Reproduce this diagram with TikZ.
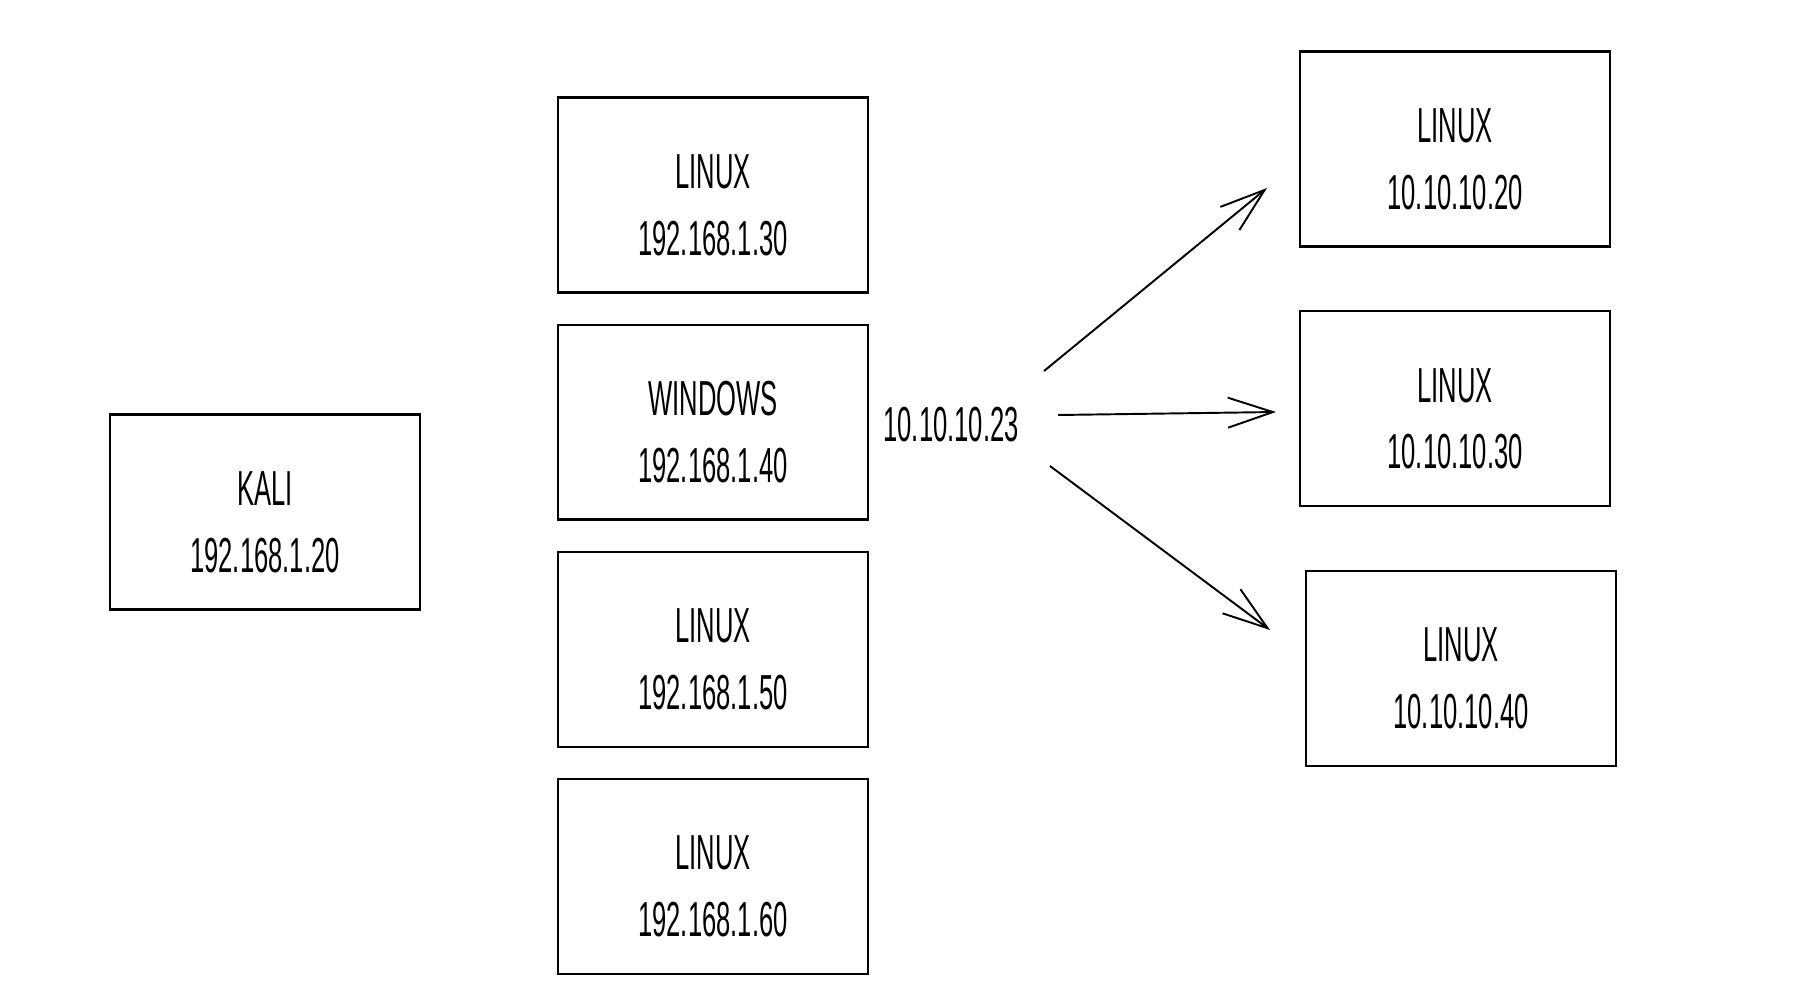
\documentclass[tikz,border=0pt]{standalone}
\usepackage{fontspec}
\newfontfamily\sketchfont[FakeStretch=0.52]{Liberation Sans}
\usetikzlibrary{positioning, arrows.meta}
\newcommand{\hostlines}[2]{\rule{0pt}{31pt}#1\\#2}
\tikzstyle{host} = [rectangle, minimum height=3.9cm, minimum width=6.2cm, text centered, align=center, draw=black, line width=1.2pt, font=\sketchfont\fontsize{28}{38}\selectfont]
\tikzstyle{label} = [font=\sketchfont\fontsize{28}{37}\selectfont]
\tikzstyle{arrow} = [line width=1.1pt, -{Straight Barb[length=9mm, width=6mm]}]
\begin{document}
\begin{tikzpicture}[x=0.02cm, y=-0.02cm, node distance=0.6cm]
        \useasboundingbox (0,0) rectangle (1817,1007);
        \node (kali) [host] at (265,512) {\hostlines{KALI}{192.168.1.20}};
        \node (lin30) [host] at (713,195) {\hostlines{LINUX}{192.168.1.30}};
        \node (win40) [host, below=of lin30] {\hostlines{WINDOWS}{192.168.1.40}};
        \node (lin50) [host, below=of win40] {\hostlines{LINUX}{192.168.1.50}};
        \node (lin60) [host, below=of lin50] {\hostlines{LINUX}{192.168.1.60}};

        \node (gw) [label] at (951,425) {10.10.10.23};

        \node (lin1020) [host] at (1455,149) {\hostlines{LINUX}{10.10.10.20}};
        \node (lin1030) [host, below=1.25cm of lin1020] {\hostlines{LINUX}{10.10.10.30}};
        \node (lin1040) [host, below=1.25cm of lin1030, xshift=0.12cm] {\hostlines{LINUX}{10.10.10.40}};

        \coordinate (up-s) at (1044,371);
        \coordinate (up-e) at (1267,188);
        \coordinate (mid-s) at (1058,415);
        \coordinate (mid-e) at (1276,412);
        \coordinate (dn-s) at (1050,466);
        \coordinate (dn-e) at (1270,630);

        \draw [arrow] (up-s) -- (up-e);
        \draw [arrow] (mid-s) -- (mid-e);
        \draw [arrow] (dn-s) -- (dn-e);
    \end{tikzpicture}
\end{document}
